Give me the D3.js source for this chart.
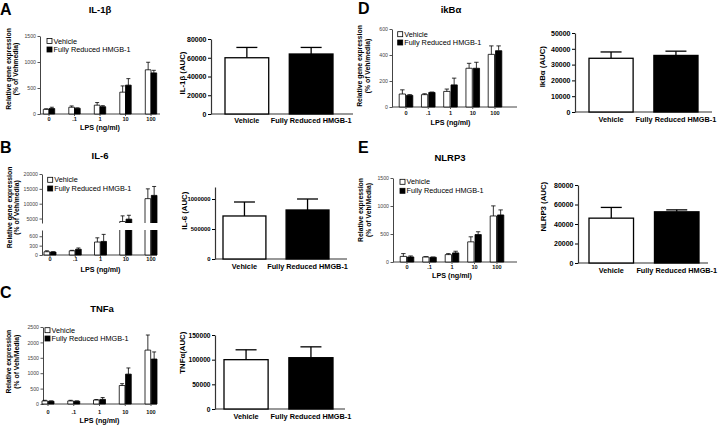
<!DOCTYPE html>
<meta charset="utf-8">
<script src="https://d3js.org/d3.v7.min.js"></script>
<style>
  body { margin: 0; background: #fff; }
  svg text { font-family: "Liberation Sans", Arial, sans-serif; font-weight: bold; }
</style>
<svg id="fig" width="720" height="426"></svg>
<script>

// categories
var doses = ["0", ".1", "1", "10", "100"];
var groups = ["Vehicle", "Fully Reduced HMGB-1"];

// IL-1b (relative expression and AUC)
var il1bVeh = [90, 130, 170, 420, 850],   il1bVehErr = [10, 25, 50, 120, 145];
var il1bFr  = [105, 110, 140, 555, 790],  il1bFrErr  = [25, 8, 20, 125, 50];
var il1bAuc = [60000, 64000],             il1bAucErr = [11000, 7000];

// IL-6
var il6Veh = [105, 135, 415, 4000, 11700], il6VehErr = [30, 15, 135, 1900, 3300];
var il6Fr  = [95, 185, 435, 4800, 12800],  il6FrErr  = [10, 40, 225, 1300, 3000];
var il6Auc = [717000, 817000],             il6AucErr = [233000, 183000];

// TNFa
var tnfVeh = [100, 100, 130, 600, 1750],  tnfVehErr = [20, 20, 15, 60, 490];
var tnfFr  = [90, 90, 150, 970, 1460],    tnfFrErr  = [10, 10, 60, 200, 230];
var tnfAuc = [100000, 104000],            tnfAucErr = [20000, 22000];

// IkBa
var ikbVeh = [100, 95, 120, 298, 405],    ikbVehErr = [32, 7, 18, 38, 65];
var ikbFr  = [90, 112, 170, 298, 433],    ikbFrErr  = [5, 3, 52, 46, 37];
var ikbAuc = [34000, 35800],              ikbAucErr = [4000, 2700];

// NLRP3
var nlrVeh = [100, 90, 132, 360, 822],    nlrVehErr = [50, 5, 18, 90, 180];
var nlrFr  = [90, 84, 162, 490, 840],     nlrFrErr  = [18, 5, 30, 50, 90];
var nlrAuc = [46000, 52500],              nlrAucErr = [11000, 2000];

var svg = d3.select("#fig");

function rotLabel(g, lines, xs, cy, size) {
  lines.forEach(function(t, i) {
    g.append("text")
      .attr("transform", "translate(" + xs[i] + "," + cy + ") rotate(-90)")
      .attr("text-anchor", "middle")
      .attr("font-size", size)
      .text(t);
  });
}

// dose-response grouped bars (segments allow a broken y axis)
function doseChart(c) {
  var g = svg.append("g");
  var x = d3.scalePoint().domain(doses).range([c.c0, c.c1]);
  var segs = c.segs.map(function(s) {
    return { lo: s.domain[0], hi: s.domain[1], ticks: s.ticks,
             y: d3.scaleLinear().domain(s.domain).range(s.range) };
  });
  function ypos(v) {
    for (var i = 0; i < segs.length; i++) if (v <= segs[i].hi || i == segs.length - 1) return segs[i].y(v);
  }

  // y axis segments
  segs.forEach(function(s) {
    var ax = g.append("g").attr("transform", "translate(" + c.ax + ",0)")
      .call(d3.axisLeft(s.y).tickValues(s.ticks).tickSize(2.5).tickPadding(1.5).tickSizeOuter(0)
        .tickFormat(d3.format("d")));
    ax.selectAll("text").attr("font-size", 5.2).attr("fill", "#444").style("font-weight", "normal");
    ax.selectAll("line").attr("stroke", "#555");
    ax.select(".domain").attr("stroke", "#444");
  });
  var base = segs[0].y(0);
  g.append("line").attr("x1", c.ax).attr("x2", c.xEnd).attr("y1", base).attr("y2", base)
    .attr("stroke", "#444");
  g.selectAll(".xt").data(doses).enter().append("line")
    .attr("x1", function(d) { return x(d); }).attr("x2", function(d) { return x(d); })
    .attr("y1", base).attr("y2", base + 2).attr("stroke", "#555");
  g.selectAll(".xl").data(doses).enter().append("text")
    .attr("x", function(d) { return x(d); }).attr("y", c.catY)
    .attr("text-anchor", "middle").attr("font-size", 5.6).attr("fill", "#111")
    .text(function(d) { return d; });

  var series = [
    { v: c.veh, e: c.vehErr, fill: "#fff", off: -c.bw - c.gap / 2 },
    { v: c.fr,  e: c.frErr,  fill: "#000", off: c.gap / 2 }
  ];
  series.forEach(function(s) {
    doses.forEach(function(d, i) {
      var bx = x(d) + s.off, v = s.v[i];
      segs.forEach(function(sg, k) {
        if (v <= sg.lo) return;
        var ends = v <= sg.hi || k == segs.length - 1;
        var top = sg.y(Math.min(v, sg.hi)), bot = sg.y(sg.lo);
        g.append("rect").attr("x", bx).attr("y", top).attr("width", c.bw).attr("height", bot - top)
          .attr("fill", s.fill);
        var p = d3.path();
        p.moveTo(bx, bot); p.lineTo(bx, top);
        if (ends) p.lineTo(bx + c.bw, top); else p.moveTo(bx + c.bw, top);
        p.lineTo(bx + c.bw, bot);
        if (k == 0) p.lineTo(bx, bot);
        g.append("path").attr("d", p.toString()).attr("fill", "none")
          .attr("stroke", "#000").attr("stroke-width", 0.8);
      });
      var y1 = ypos(v), y2 = ypos(v + s.e[i]), cx = bx + c.bw / 2;
      g.append("line").attr("x1", cx).attr("x2", cx).attr("y1", y1).attr("y2", y2)
        .attr("stroke", "#000").attr("stroke-width", 0.8);
      g.append("line").attr("x1", cx - c.bw * 0.35).attr("x2", cx + c.bw * 0.35).attr("y1", y2).attr("y2", y2)
        .attr("stroke", "#000").attr("stroke-width", 0.8);
    });
  });

  g.append("text").attr("x", (c.c0 + c.c1) / 2).attr("y", c.lpsY).attr("text-anchor", "middle")
    .attr("font-size", 7.2).text("LPS (ng/ml)");
  g.append("text").attr("x", c.titleX).attr("y", c.titleY).attr("text-anchor", "middle")
    .attr("font-size", 9.5).text(c.title);
  g.append("text").attr("x", c.letterX).attr("y", c.letterY).attr("font-size", 16).text(c.letter);
  rotLabel(g, c.ylab, c.ylabX, c.ylabY, 6.8);

  // legend
  groups.forEach(function(name, i) {
    var ly = c.legY + i * c.legGap;
    g.append("rect").attr("x", c.legX).attr("y", ly).attr("width", 5).attr("height", 5)
      .attr("fill", i ? "#000" : "#fff").attr("stroke", "#000").attr("stroke-width", 0.8);
    g.append("text").attr("x", c.legX + 6.5).attr("y", ly + 5).attr("font-size", 7.3)
      .style("font-weight", "normal").text(name);
  });
}

// AUC two-bar chart
function aucChart(c) {
  var g = svg.append("g");
  var x = d3.scaleBand().domain(groups).range([c.b0, c.b1]).paddingInner(0.32);
  var y = d3.scaleLinear().domain([0, c.max]).range([c.base, c.top]);
  var ax = g.append("g").attr("transform", "translate(" + c.ax + ",0)")
    .call(d3.axisLeft(y).tickValues(c.ticks).tickSize(3).tickPadding(1.5).tickSizeOuter(0)
      .tickFormat(d3.format("d")));
  ax.selectAll("text").attr("font-size", c.tickFont || 7).attr("fill", "#000");
  ax.select(".domain").attr("stroke", "#333").attr("stroke-width", 1.2);
  g.append("line").attr("x1", c.ax).attr("x2", c.xEnd).attr("y1", c.base).attr("y2", c.base)
    .attr("stroke", "#333").attr("stroke-width", 1.2);

  groups.forEach(function(name, i) {
    var bx = x(name), bw = x.bandwidth(), v = c.vals[i], cx = bx + bw / 2;
    var yT = y(v), yE = y(v + c.errs[i]);
    g.append("line").attr("x1", cx).attr("x2", cx).attr("y1", yT).attr("y2", yE)
      .attr("stroke", "#000").attr("stroke-width", 1.3);
    g.append("line").attr("x1", cx - 10.5).attr("x2", cx + 10.5).attr("y1", yE).attr("y2", yE)
      .attr("stroke", "#000").attr("stroke-width", 1.3);
    g.append("rect").attr("x", bx).attr("y", yT).attr("width", bw).attr("height", c.base - yT)
      .attr("fill", i ? "#000" : "#fff").attr("stroke", "#000").attr("stroke-width", 1.3);
    g.append("text").attr("x", cx).attr("y", c.labY).attr("text-anchor", "middle")
      .attr("font-size", 7.3).text(name);
  });
  rotLabel(g, [c.ylab], [c.ylabX], c.ylabY, 7.8);
}

// ---- panels ----
doseChart({ letter: "A", letterX: 0, letterY: 15, title: "IL-1\u03b2", titleX: 100, titleY: 12.5,
  ax: 40, xEnd: 160, c0: 49, c1: 151, bw: 5.7, gap: 0,
  segs: [{ domain: [0, 1500], range: [114, 36], ticks: [0, 500, 1000, 1500] }],
  veh: il1bVeh, vehErr: il1bVehErr, fr: il1bFr, frErr: il1bFrErr,
  catY: 120.5, lpsY: 130, legX: 47, legY: 38.5, legGap: 8.5,
  ylab: ["Relative gene expression", "(% of Vehmedia)"], ylabX: [10.5, 18], ylabY: 69 });

aucChart({ ax: 211, xEnd: 353, b0: 225, b1: 333, base: 114, top: 39, max: 80000,
  ticks: [0, 20000, 40000, 60000, 80000], vals: il1bAuc, errs: il1bAucErr,
  labY: 122.7, ylab: "IL-1\u03b2 (AUC)", ylabX: 184.5, ylabY: 73 });

doseChart({ letter: "B", letterX: 0, letterY: 153, title: "IL-6", titleX: 100, titleY: 159,
  ax: 42, xEnd: 157, c0: 50, c1: 151, bw: 5.7, gap: 0.6,
  segs: [{ domain: [0, 800], range: [255, 230], ticks: [0, 300, 600] },
         { domain: [3500, 20000], range: [223, 174], ticks: [5000, 10000, 15000, 20000] }],
  veh: il6Veh, vehErr: il6VehErr, fr: il6Fr, frErr: il6FrErr,
  catY: 261, lpsY: 271.7, legX: 47.7, legY: 177.3, legGap: 8.7,
  ylab: ["Relative gene expression", "(% of Veh/media)"], ylabX: [11.5, 18.5], ylabY: 207.5 });

aucChart({ ax: 215, xEnd: 347, b0: 223, b1: 329, base: 259, top: 187, max: 1200000, tickFont: 5.9,
  ticks: [0, 500000, 1000000], vals: il6Auc, errs: il6AucErr,
  labY: 269.3, ylab: "IL-6 (AUC)", ylabX: 187, ylabY: 210.7 });

doseChart({ letter: "C", letterX: 0, letterY: 298, title: "TNFa", titleX: 102, titleY: 311.5,
  ax: 43, xEnd: 157, c0: 48, c1: 151, bw: 5.7, gap: 0.6,
  segs: [{ domain: [0, 2500], range: [404, 327], ticks: [0, 500, 1000, 1500, 2000, 2500] }],
  veh: tnfVeh, vehErr: tnfVehErr, fr: tnfFr, frErr: tnfFrErr,
  catY: 414, lpsY: 422.7, legX: 45, legY: 327.7, legGap: 8.3,
  ylab: ["Relative expression", "(% of Veh/Media)"], ylabX: [11, 19], ylabY: 361.7 });

aucChart({ ax: 215, xEnd: 345, b0: 224, b1: 333, base: 409, top: 335, max: 150000, tickFont: 6.6,
  ticks: [0, 50000, 100000, 150000], vals: tnfAuc, errs: tnfAucErr,
  labY: 419.3, ylab: "TNF\u03b1(AUC)", ylabX: 185, ylabY: 352.7 });

doseChart({ letter: "D", letterX: 358, letterY: 14, title: "ikB\u03b1", titleX: 451, titleY: 13,
  ax: 392, xEnd: 517, c0: 406, c1: 495, bw: 6.3, gap: 1,
  segs: [{ domain: [0, 600], range: [107, 29], ticks: [0, 200, 400, 600] }],
  veh: ikbVeh, vehErr: ikbVehErr, fr: ikbFr, frErr: ikbFrErr,
  catY: 115, lpsY: 125, legX: 397.7, legY: 31.7, legGap: 8.3,
  ylab: ["Relative gene expression", "(% of Veh/media)"], ylabX: [362, 370], ylabY: 66 });

aucChart({ ax: 575, xEnd: 712, b0: 589, b1: 698, base: 112, top: 33, max: 50000,
  ticks: [0, 10000, 20000, 30000, 40000, 50000], vals: ikbAuc, errs: ikbAucErr,
  labY: 121.7, ylab: "IkB\u03b1 (AUC)", ylabX: 545, ylabY: 66.7 });

doseChart({ letter: "E", letterX: 358, letterY: 153, title: "NLRP3", titleX: 450, titleY: 161,
  ax: 393, xEnd: 517, c0: 407, c1: 497, bw: 6.3, gap: 1,
  segs: [{ domain: [0, 1500], range: [262, 178], ticks: [0, 500, 1000, 1500] }],
  veh: nlrVeh, vehErr: nlrVehErr, fr: nlrFr, frErr: nlrFrErr,
  catY: 269.3, lpsY: 278.3, legX: 400, legY: 179.3, legGap: 9,
  ylab: ["Relative expression", "(% of Veh/Media)"], ylabX: [363, 371], ylabY: 210 });

aucChart({ ax: 578, xEnd: 708, b0: 589, b1: 699, base: 263, top: 185, max: 80000,
  ticks: [0, 20000, 40000, 60000, 80000], vals: nlrAuc, errs: nlrAucErr,
  labY: 272.7, ylab: "NLRP3 (AUC)", ylabX: 546, ylabY: 206.7 });

</script>
